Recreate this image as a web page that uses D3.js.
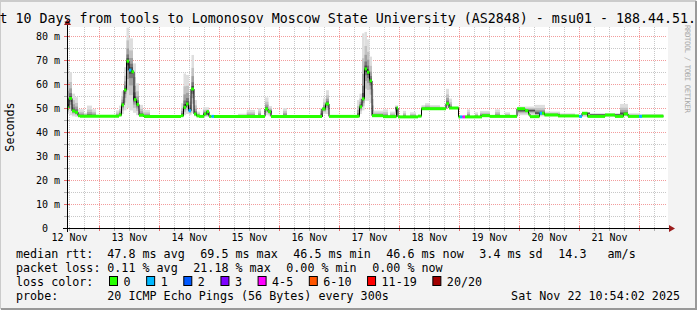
<!DOCTYPE html>
<html>
<head>
<meta charset="utf-8">
<script src="https://cdn.jsdelivr.net/npm/d3@7/dist/d3.min.js"></script>
<style>
  html, body { margin: 0; padding: 0; background: #f3f3f3; overflow: hidden; }
  svg { display: block; font-family: "DejaVu Sans Mono", monospace; }
</style>
</head>
<body>
<div id="chart"></div>
<script>
const titleText = "t 10 Days from tools to Lomonosov Moscow State University (AS2848) - msu01 - 188.44.51.";
const yLabel = "Seconds";
const watermark = "RRDTOOL / TOBI OETIKER";
const yTicks = [0, 10, 20, 30, 40, 50, 60, 70, 80];
const dayLabels = ["12 Nov", "13 Nov", "14 Nov", "15 Nov", "16 Nov", "17 Nov", "18 Nov", "19 Nov", "20 Nov", "21 Nov"];

// hours since 12 Nov 00:00
const viewStart = 11.2;
const viewEnd = 251.2;
const medianEnd = 249.8;

// [hour, median rtt in ms, lost pings out of 20]
const medianSteps = [
  [11.2, 50.0, 0], [12.0, 54.0, 0], [13.2, 48.8, 0], [14.4, 48.2, 0], [15.6, 46.8, 0], [16.4, 46.6, 0],
  [32.0, 47.1, 0], [33.0, 51.3, 0], [34.0, 57.5, 0], [35.0, 69.5, 0], [36.0, 65.8, 1], [37.0, 65.1, 0],
  [38.0, 53.5, 0], [39.0, 51.5, 0], [40.0, 47.0, 0], [42.0, 46.5, 0],
  [56.8, 46.8, 0], [57.8, 50.3, 0], [58.8, 51.7, 0], [59.8, 48.9, 1], [60.8, 57.9, 0], [62.0, 47.5, 0],
  [63.0, 46.7, 0], [64.0, 46.5, 0], [66.0, 47.5, 0], [67.0, 48.5, 0], [68.0, 46.5, 0], [69.0, 46.5, 1],
  [70.0, 46.5, 0],
  [90.4, 49.6, 0], [91.6, 48.5, 0], [92.8, 46.5, 0],
  [113.2, 49.6, 0], [114.6, 51.7, 0], [116.0, 46.5, 0],
  [127.6, 46.6, 0], [128.2, 50.5, 0], [129.2, 53.8, 0], [130.2, 66.3, 0], [131.2, 64.9, 0], [132.2, 61.3, 0],
  [133.2, 46.8, 0], [137.6, 46.4, 0], [143.0, 50.0, 0], [143.6, 46.3, 0],
  [151.6, 46.6, 0], [153.0, 49.7, 0], [162.8, 51.8, 0], [164.0, 50.0, 0], [167.8, 46.3, 0],
  [168.4, 46.3, 1], [169.4, 46.3, 4], [170.4, 46.3, 0], [177.2, 46.8, 0], [180.4, 46.5, 0],
  [191.2, 49.7, 0], [194.4, 48.9, 0], [195.8, 47.4, 0], [196.4, 46.4, 0], [200.2, 47.8, 1], [201.2, 47.8, 0],
  [202.2, 47.1, 0], [207.6, 46.7, 0], [216.0, 46.5, 1], [217.2, 47.8, 0], [219.4, 46.5, 0],
  [226.4, 47.1, 0], [230.4, 46.5, 0], [233.8, 47.5, 0], [235.6, 46.5, 0], [240.0, 46.5, 1], [241.2, 46.6, 0]
];

// [start hour, end hour, lowest ping ms, highest ping ms]
const smokeBands = [
  [11.2, 12.0, 47.5, 69.0], [12.0, 13.2, 47.0, 65.0], [13.2, 14.4, 46.5, 56.0], [14.4, 15.6, 46.3, 54.5],
  [15.6, 18.0, 46.3, 49.5], [18.0, 19.2, 46.3, 48.0], [19.2, 21.2, 46.3, 51.0], [21.2, 22.8, 46.3, 49.5],
  [30.8, 32.0, 46.3, 49.0], [32.0, 33.0, 46.5, 51.0], [33.0, 34.0, 47.5, 57.0], [34.0, 35.0, 49.0, 67.0],
  [35.0, 36.0, 50.0, 83.5], [36.0, 37.6, 49.0, 79.0], [37.6, 38.8, 48.0, 68.6], [38.8, 40.0, 47.0, 60.3],
  [40.0, 41.6, 46.3, 51.3], [41.6, 44.4, 46.3, 49.2],
  [56.8, 57.8, 46.5, 52.0], [57.8, 58.8, 47.0, 64.4], [58.8, 60.0, 47.5, 63.8], [60.0, 61.0, 47.0, 55.0],
  [61.0, 62.0, 48.0, 72.1], [62.0, 63.2, 46.5, 53.3], [63.2, 64.4, 46.3, 48.5], [65.6, 68.0, 46.3, 50.3],
  [79.6, 83.1, 46.3, 47.6], [83.1, 86.4, 46.3, 49.2], [87.6, 88.8, 46.3, 49.9], [90.4, 91.8, 47.0, 54.4],
  [91.8, 93.2, 46.5, 50.8], [97.6, 99.2, 46.3, 50.0],
  [112.4, 113.6, 46.3, 50.0], [113.6, 114.8, 47.5, 54.0], [114.8, 116.0, 47.5, 57.4],
  [127.2, 128.2, 46.3, 53.3], [128.2, 129.2, 47.5, 56.0], [129.2, 130.2, 49.0, 81.1], [130.2, 131.2, 53.0, 81.7],
  [131.2, 132.2, 53.0, 78.6], [132.2, 133.2, 52.0, 71.4], [133.2, 133.8, 46.3, 58.0], [133.8, 137.6, 46.3, 48.9],
  [137.6, 139.6, 46.3, 49.4], [140.4, 142.4, 46.3, 48.5], [142.4, 143.6, 46.3, 51.1], [145.6, 146.8, 46.3, 48.8],
  [148.4, 150.8, 46.3, 48.2],
  [153.0, 154.4, 49.5, 51.2], [154.4, 156.4, 49.5, 52.0], [156.4, 160.4, 49.5, 51.2], [160.4, 162.8, 49.5, 50.6],
  [162.8, 164.0, 50.0, 58.0], [164.0, 165.2, 49.5, 53.9], [165.2, 167.8, 49.5, 50.4],
  [171.2, 172.4, 46.3, 49.4], [174.4, 175.6, 46.3, 48.2], [176.4, 180.4, 46.5, 48.8], [182.4, 184.4, 46.3, 49.4],
  [186.4, 188.4, 46.3, 48.2],
  [191.6, 198.4, 47.0, 50.6], [198.4, 202.4, 46.5, 51.3], [202.4, 208.4, 46.5, 48.5], [208.4, 214.4, 46.3, 47.8],
  [217.6, 220.4, 46.3, 48.3], [220.4, 232.4, 46.3, 47.8], [232.4, 235.6, 46.5, 51.7], [235.6, 240.4, 46.3, 47.8],
  [240.4, 249.6, 46.3, 47.5]
];

const lossLabels = ["0", "1", "2", "3", "4-5", "6-10", "11-19", "20/20"];
const lossFrom = [0, 1, 2, 3, 4, 6, 11, 20];
const lossColors = ["#26ff00", "#00b8ff", "#0059ff", "#7e00ff", "#ff00ff", "#ff5500", "#ff0000", "#a10000"];

const rttLegend = ["median rtt:", "47.8 ms avg", "69.5 ms max", "46.5 ms min", "46.6 ms now", "3.4 ms sd", "14.3   am/s"];
const lossLegend = ["packet loss:", "0.11 % avg", "21.18 % max", "0.00 % min", "0.00 % now"];
const colorLegend = "loss color:";
const probeLegend = ["probe:", "20 ICMP Echo Pings (56 Bytes) every 300s"];
const stampText = "Sat Nov 22 10:54:02 2025";

document.addEventListener("DOMContentLoaded", () => {

    const width = 697;
    const height = 310;
    const plot = { left: 67, right: 667, top: 27, bottom: 228 };

    const t0 = Date.UTC(2025, 10, 12);
    const toDate = h => new Date(t0 + h * 3600e3);

    const svg = d3.select("#chart")
    .append("svg")
    .attr("width", width)
    .attr("height", height);

    // background + 3d frame
    svg.append("rect").attr("width", width).attr("height", height).attr("fill", "#f3f3f3");
    svg.append("path").attr("d", `M0,${height - 1}V1H${width - 1}`).attr("stroke", "#cbcbcb").attr("stroke-width", 2).attr("fill", "none");
    svg.append("path").attr("d", `M1,${height - 1}H${width - 1}V1`).attr("stroke", "#999999").attr("stroke-width", 2).attr("fill", "none");

    svg.append("rect")
    .attr("x", plot.left).attr("y", plot.top)
    .attr("width", plot.right - plot.left + 1).attr("height", plot.bottom - plot.top)
    .attr("fill", "#ffffff");

    const xScale = d3.scaleUtc()
    .domain([toDate(viewStart), toDate(viewEnd)])
    .range([plot.left, plot.right]);

    const yScale = d3.scaleLinear()
    .domain([0, 83.75])
    .range([plot.bottom, plot.top]);

    // grid
    const grid = svg.append("g");
    const hourTicks = xScale.ticks(d3.utcHour.every(6));
    grid.selectAll("line.v")
    .data(hourTicks)
    .join("line")
    .attr("x1", d => Math.round(xScale(d)) + 0.5)
    .attr("x2", d => Math.round(xScale(d)) + 0.5)
    .attr("y1", plot.top)
    .attr("y2", plot.bottom)
    .attr("stroke", d => d.getUTCHours() === 0 ? "#f29c9c" : "#c8c8c8")
    .attr("stroke-dasharray", "1,1");

    const gridValues = d3.range(5, 84, 5);
    grid.selectAll("line.h")
    .data(gridValues)
    .join("line")
    .attr("x1", plot.left)
    .attr("x2", plot.right)
    .attr("y1", d => Math.round(yScale(d)) + 0.5)
    .attr("y2", d => Math.round(yScale(d)) + 0.5)
    .attr("stroke", d => d % 10 === 0 ? "#f29c9c" : "#c8c8c8")
    .attr("stroke-dasharray", "1,1");

    // smoke
    const medianAt = h => {
        const i = d3.bisector(d => d[0]).right(medianSteps, h) - 1;
        return medianSteps[Math.max(0, i)][1];
    };
    const shades = [
        { f: 1.0, c: "#dedede" },
        { f: 0.62, c: "#c2c2c2" },
        { f: 0.38, c: "#a0a0a0" },
        { f: 0.2, c: "#777777" },
        { f: 0.09, c: "#4a4a4a" }
    ];
    const smoke = svg.append("g");
    smokeBands.forEach(b => {
        const med = medianAt((b[0] + b[1]) / 2);
        const x0 = xScale(toDate(b[0]));
        const x1 = xScale(toDate(b[1]));
        shades.forEach(s => {
            const lo = med - Math.max(0, med - b[2]) * s.f;
            const hi = med + Math.max(0, b[3] - med) * s.f;
            const top = Math.min(yScale(hi), yScale(med) - 0.5);
            const bot = Math.max(yScale(lo), yScale(med) + 0.5);
            smoke.append("rect")
            .attr("x", x0)
            .attr("width", x1 - x0)
            .attr("y", Math.max(plot.top, top))
            .attr("height", bot - Math.max(plot.top, top))
            .attr("fill", s.c);
        });
    });

    // median line: thin black steps, then loss-coloured sample bars
    const lastMs = medianSteps[medianSteps.length - 1][1];
    const linePoints = medianSteps.concat([[medianEnd, lastMs, 0]]);
    svg.append("path")
    .datum(linePoints)
    .attr("fill", "none")
    .attr("stroke", "#000")
    .attr("stroke-width", 1)
    .attr("d", d3.line()
        .x(d => xScale(toDate(d[0])))
        .y(d => yScale(d[1]))
        .curve(d3.curveStepAfter));

    const lossColor = n => {
        let c = lossColors[0];
        lossFrom.forEach((f, i) => { if (n >= f) c = lossColors[i]; });
        return c;
    };
    const segs = medianSteps.map((d, i) => ({
        h0: d[0],
        h1: i < medianSteps.length - 1 ? medianSteps[i + 1][0] : medianEnd,
        ms: d[1],
        loss: d[2]
    }));
    svg.append("g")
    .selectAll("line")
    .data(segs)
    .join("line")
    .attr("x1", d => xScale(toDate(d.h0)))
    .attr("x2", d => xScale(toDate(d.h1)))
    .attr("y1", d => yScale(d.ms))
    .attr("y2", d => yScale(d.ms))
    .attr("stroke", d => lossColor(d.loss))
    .attr("stroke-width", 3);

    // axis ticks
    svg.append("g")
    .selectAll("line")
    .data(hourTicks)
    .join("line")
    .attr("x1", d => Math.round(xScale(d)) + 0.5)
    .attr("x2", d => Math.round(xScale(d)) + 0.5)
    .attr("y1", d => d.getUTCHours() === 0 ? 226 : 227)
    .attr("y2", 231)
    .attr("stroke", d => d.getUTCHours() === 0 ? "#e86a6a" : "#b0b0b0");

    svg.append("g")
    .selectAll("line")
    .data(gridValues)
    .join("line")
    .attr("x1", 64)
    .attr("x2", d => d % 10 === 0 ? 70 : 69)
    .attr("y1", d => Math.round(yScale(d)) + 0.5)
    .attr("y2", d => Math.round(yScale(d)) + 0.5)
    .attr("stroke", d => d % 10 === 0 ? "#e86a6a" : "#b0b0b0");

    // axes lines and arrows
    svg.append("line").attr("x1", 63).attr("x2", 670).attr("y1", plot.bottom + 0.5).attr("y2", plot.bottom + 0.5).attr("stroke", "#000");
    svg.append("line").attr("x1", plot.left + 0.5).attr("x2", plot.left + 0.5).attr("y1", 232).attr("y2", 24).attr("stroke", "#000");
    svg.append("path").attr("d", "M669,225L675,228.5L669,232Z").attr("fill", "#9b1c1c");
    svg.append("path").attr("d", "M64,25L67.5,19L71,25Z").attr("fill", "#9b1c1c");

    // axis labels
    const xAxis = d3.axisBottom(xScale)
    .tickValues(dayLabels.map((d, i) => toDate(12 + 24 * i)))
    .tickFormat((d, i) => dayLabels[i])
    .tickSize(0);

    svg.append("g")
    .attr("transform", `translate(0,${plot.bottom})`)
    .call(xAxis)
    .call(g => g.select(".domain").remove())
    .selectAll("text")
    .attr("y", 13)
    .attr("dy", null)
    .attr("fill", "#000")
    .style("font-size", "10px")
    .style("font-family", "DejaVu Sans Mono");

    const yAxis = d3.axisLeft(yScale)
    .tickValues(yTicks)
    .tickFormat(d => d === 0 ? "0" : `${d} m`)
    .tickSize(0);

    svg.append("g")
    .attr("transform", `translate(${plot.left},0)`)
    .call(yAxis)
    .call(g => g.select(".domain").remove())
    .selectAll("text")
    .attr("x", d => d === 0 ? -19 : -7)
    .attr("dy", "0.36em")
    .attr("fill", "#000")
    .style("font-size", "10px")
    .style("font-family", "DejaVu Sans Mono");

    // title, y label, watermark
    svg.append("text")
    .attr("x", -0.5).attr("y", 23)
    .style("font-size", "13.3px")
    .attr("fill", "#000")
    .text(titleText);

    svg.append("text")
    .attr("transform", "translate(14,127) rotate(-90)")
    .attr("text-anchor", "middle")
    .style("font-size", "11.7px")
    .attr("fill", "#000")
    .text(yLabel);

    svg.append("text")
    .attr("transform", "translate(685,25) rotate(90)")
    .style("font-size", "7.4px")
    .attr("textLength", 88)
    .attr("lengthAdjust", "spacing")
    .attr("fill", "#aaaaaa")
    .text(watermark);

    // legend
    const legend = svg.append("g").style("font-size", "11.7px").attr("fill", "#000");
    const valueCol = 107.3;
    const gap = 15.6;

    const flowRow = (items, yBase) => {
        legend.append("text").attr("x", 16).attr("y", yBase).text(items[0]);
        let xPos = valueCol;
        items.slice(1).forEach(t => {
            const node = legend.append("text")
            .attr("x", xPos).attr("y", yBase)
            .style("white-space", "pre")
            .text(t);
            xPos += node.node().getComputedTextLength() + gap;
        });
    };

    flowRow(rttLegend, 258);
    flowRow(lossLegend, 272);

    legend.append("text").attr("x", 16).attr("y", 286).text(colorLegend);
    let bx = 109;
    lossLabels.forEach((label, i) => {
        legend.append("rect")
        .attr("x", bx + 0.5).attr("y", 276.5)
        .attr("width", 8).attr("height", 9)
        .attr("fill", lossColors[i])
        .attr("stroke", "#000");
        const node = legend.append("text").attr("x", bx + 14.5).attr("y", 286).text(label);
        bx += 14.5 + node.node().getComputedTextLength() + gap;
    });

    flowRow(probeLegend, 300);
    legend.append("text")
    .attr("x", 680).attr("y", 300)
    .attr("text-anchor", "end")
    .text(stampText);
});
</script>
</body>
</html>
